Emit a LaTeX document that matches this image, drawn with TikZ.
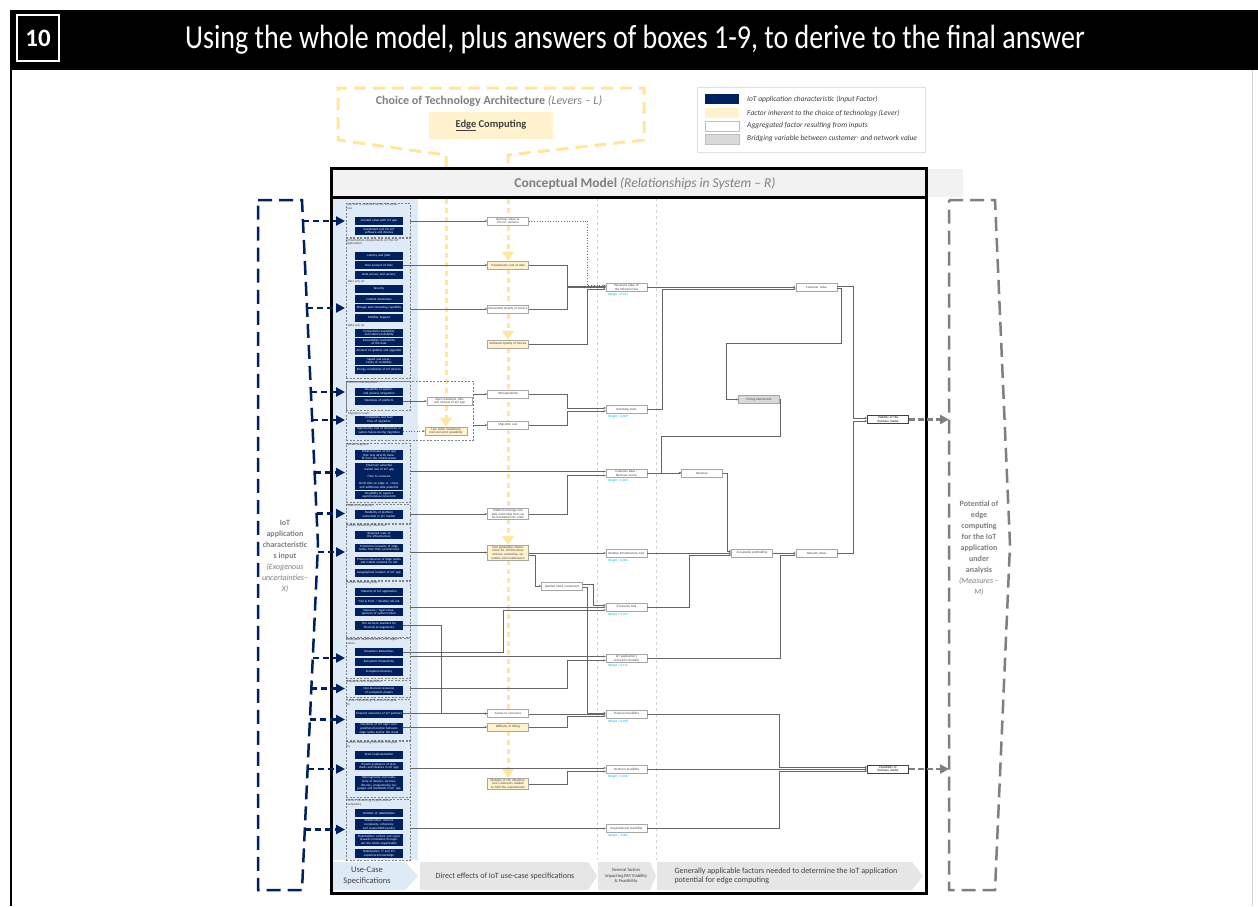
\documentclass[tikz,border=0pt]{standalone}
\usepackage{fontspec}
\setmainfont{Carlito}
\usetikzlibrary{arrows.meta,calc}

\definecolor{navy}{HTML}{002060}
\definecolor{leverfill}{HTML}{FFF2CC}
\definecolor{leverline}{HTML}{FFE699}
\definecolor{ucblue}{HTML}{DEEBF7}
\definecolor{bandgray}{HTML}{E7E6E6}
\definecolor{headgray}{HTML}{F2F2F2}
\definecolor{txtgray}{HTML}{7F7F7F}
\definecolor{darktxt}{HTML}{404040}
\definecolor{weightblue}{HTML}{00B0F0}
\definecolor{bridgefill}{HTML}{D9D9D9}

\newcommand\boxfont{\fontsize{3.2}{3.7}\selectfont}

\pgfdeclarelayer{bg}
\pgfsetlayers{bg,main}

\tikzset{
  inbox/.style={fill=navy, text=white, minimum width=48pt, minimum height=8.4pt, text width=46pt, inner sep=0.6pt, align=center, font=\boxfont},
  grpbox/.style={draw=gray, dash pattern=on 2pt off 1.5pt, line width=0.6pt, minimum width=64pt, inner sep=0pt},
  grplbl/.style={text=darktxt, font=\boxfont, inner sep=0.8pt, align=left, text width=52pt, anchor=north west},
  aggbox/.style={draw=gray!70, fill=white, minimum width=41pt, minimum height=8pt, text width=39pt, inner sep=0.6pt, align=center, font=\boxfont, text=darktxt},
  leverbox/.style={aggbox, fill=leverfill},
  bridgebox/.style={aggbox, fill=bridgefill},
  weight/.style={text=weightblue, font=\boxfont, inner sep=0pt, anchor=north west},
  wire/.style={draw=black!60, line width=0.7pt, -{Stealth[length=2.4pt,width=2pt]}},
  leverflow/.style={draw=leverline, line width=3pt, dash pattern=on 5pt off 4pt, -{Triangle[length=9pt,width=11pt]}},
  inarrow/.style={draw=navy, line width=2.5pt, dash pattern=on 6pt off 4pt, -{Triangle[length=9pt,width=9pt]}},
  outarrow/.style={draw=txtgray, line width=2.5pt, dash pattern=on 6pt off 3pt, -{Triangle[length=9pt,width=9pt]}},
  xbracket/.style={draw=navy, line width=2.5pt, dash pattern=on 14pt off 7pt},
  mbracket/.style={draw=txtgray, line width=2.5pt, dash pattern=on 14pt off 7pt},
  lgtext/.style={font=\fontsize{7.5}{8.5}\selectfont\itshape, text=darktxt, inner sep=0pt, anchor=west},
  bandtext/.style={font=\fontsize{8}{9.5}\selectfont, text=darktxt, align=center}
}

\begin{document}
\begin{tikzpicture}[x=1pt,y=-1pt]
%%%%% PAGE %%%%%
\useasboundingbox (0,0) rectangle (1258,906);
\fill[black] (10,10) rectangle (1258,70);
\draw[black, line width=1.5pt] (10.75,70) -- (10.75,906);
\draw[gray!35, line width=1pt] (1252,70) -- (1252,906);
\node[draw=white, line width=1.6pt, minimum width=42pt, minimum height=46pt, inner sep=0pt, text=white, font=\fontsize{25}{25}\selectfont\bfseries] (boxno) at (38,38) {10};
\node[text=white, font=\fontsize{28}{28}\selectfont] (title) at (635,40) {\scalebox{1}[1.2]{Using the whole model, plus answers of boxes 1-9, to derive to the final answer}};

%%%%% LEVERS %%%%%
\draw[leverline, line width=3pt, dash pattern=on 12pt off 7pt] (446,168) -- (446,155) -- (338,140) -- (338,88) -- (644,88) -- (644,140) -- (508,155) -- (508,168);
\node[text=txtgray, font=\fontsize{12}{14}\selectfont] (levers) at (489,101) {\textbf{Choice of Technology Architecture} \textit{(Levers -- L)}};
\node[fill=leverfill, minimum width=124pt, minimum height=27pt, text=darktxt, font=\fontsize{10.5}{12}\selectfont\bfseries] (edge) at (491,125.5) {\underline{Edge} Computing};

%%%%% LEGEND %%%%%
\node[draw=gray!25, fill=white, minimum width=228pt, minimum height=65pt, inner sep=0pt] (legend) at (811,119.5) {};
\node[fill=navy, minimum width=34pt, minimum height=10pt, inner sep=0pt] (lgin) at (722,99) {};
\node[lgtext] at (747,99) {IoT application characteristic (Input Factor)};
\node[fill=leverfill, minimum width=34pt, minimum height=10pt, inner sep=0pt] (lglever) at (722,113) {};
\node[lgtext] at (747,113) {Factor inherent to the choice of technology (Lever)};
\node[draw=gray!50, fill=white, minimum width=34pt, minimum height=10pt, inner sep=0pt] (lgagg) at (722,126) {};
\node[lgtext] at (747,126) {Aggregated factor resulting from inputs};
\node[draw=gray!50, fill=bridgefill, minimum width=34pt, minimum height=10pt, inner sep=0pt] (lgbridge) at (722,139) {};
\node[lgtext] at (747,139) {Bridging variable between customer- and network value};

%%%%% MODEL HEADER %%%%%
\fill[headgray] (331,169) rectangle (963,197);
\node[text=txtgray, font=\fontsize{13.5}{15}\selectfont] (cmodel) at (645,184) {\textbf{Conceptual Model} \textit{(Relationships in System -- R)}};

%%%%% INPUT FACTORS %%%%%
\node[grpbox, minimum height=34pt] (g1) at (378,220) {};
\node[grplbl] at (g1.north west) {App that is unlocked by the infrastructure};
\node[inbox] (cval) at (379,221) {Created value with IoT app};
\node[inbox] (invcost) at (379,231) {Investment cost for IoT software and devices};

\node[grpbox, minimum height=140pt] (g2) at (378,308) {};
\node[grplbl] at (g2.north west) {Infrastructure requirements (of the IoT application)};
\node[inbox] (latency) at (379,256) {Latency and jitter};
\node[inbox] (rawdata) at (379,265) {Raw amount of data};
\node[inbox] (privacy) at (379,275) {Data privacy and secrecy};
\node[grplbl, anchor=west] at (347,282) {Data rely on:};
\node[inbox] (security) at (379,289) {Security};
\node[inbox] (context) at (379,299) {Context Awareness};
\node[inbox] (storage) at (379,308) {Storage and computing capability};
\node[inbox] (mobility) at (379,318) {Mobility Support};
\node[grplbl, anchor=west] at (347,326) {Data rely on:};
\node[inbox] (connect) at (379,333) {Connectivity/availability and latency/reliability};
\node[inbox] (reach) at (379,342) {Accessibility/reachability of the data};
\node[inbox] (updates) at (379,351) {Amount of updates and upgrades};
\node[inbox] (scal) at (379,361) {Speed and uncertainty of scalability};
\node[inbox] (energy) at (379,370) {Energy constraints of IoT devices};

\node[grpbox, minimum width=127pt, minimum height=59pt] (g3) at (409.5,410.5) {};
\node[grpbox, minimum height=29pt] (g3a) at (378,395.5) {};
\node[grplbl] at (g3a.north west) {Platform characteristics};
\node[inbox] (integr) at (379,392) {Possibility of system- and process integration};
\node[inbox] (openness) at (379,401) {Openness of platform};
\node[grplbl, anchor=west] at (347,413.5) {Migration issues};
\node[inbox] (migcplx) at (379,420) {Complexity and lead time of migration};
\node[inbox] (migopp) at (379,431) {Opportunity cost of downtime or system failure during migration};
\node[aggbox, minimum width=45pt, text width=43pt] (openstd) at (449.5,401) {Open standards, APIs and interest of IoT app};
\node[leverbox, minimum width=42pt, text width=40pt] (lowinv) at (446,431) {Low initial investment trail and error possibility};

\node[grpbox, minimum height=59pt] (g4) at (378,472.5) {};
\node[grplbl] at (g4.north west) {Market segment};
\node[inbox] (initinc) at (379,455) {Initial/Increase of IoT app that may directly benefit from the infrastructure};
\node[inbox] (mktmax) at (379,467.5) {Maximum potential market size of IoT app};
\node[inbox] (ttc) at (379,476.5) {Time to consume};
\node[inbox] (draftdata) at (379,485.5) {Draft data on edge vs. cloud, and additional data potential};
\node[inbox] (async) at (379,495) {Possibility of support asynchronous/concurrent};

\node[grpbox, minimum height=19pt] (g5) at (378,513.5) {};
\node[grplbl] at (g5.north west) {Platform ownership};
\node[inbox] (plown) at (379,514.5) {Flexibility of platform ownership in IoT market};

\node[grpbox, minimum height=56pt] (g6) at (378,552) {};
\node[grplbl] at (g6.north west) {Factors influencing initial cost};
\node[inbox] (reqscale) at (379,535) {Required scale of the infrastructure};
\node[inbox] (protect) at (379,548) {Protection necessity of edge nodes from their environment};
\node[inbox] (presence) at (379,561) {Presence/absence of edge nodes and mobile network on site};
\node[inbox] (geo) at (379,573) {Geographical location of IoT app};

\node[grpbox, minimum height=56pt] (g7) at (378,609) {};
\node[grplbl] at (g7.north west) {Factors influencing Risk};
\node[inbox] (matapp) at (379,592) {Maturity of IoT application};
\node[inbox] (trial) at (379,601) {Trial \& Error / iterative roll-out};
\node[inbox] (expo) at (379,612) {Exposure / legal consequences of system failure};
\node[inbox] (defacto) at (379,625.5) {The de-facto standard for financial arrangements};

\node[grpbox, minimum height=40pt] (g8) at (378,658) {};
\node[grplbl] at (g8.north west) {Ecosystem health metrics of IoT application};
\node[inbox] (robust) at (379,652) {Ecosystem Robustness};
\node[inbox] (ecoprod) at (379,662) {Ecosystem Productivity};
\node[inbox] (ecodiv) at (379,672) {Ecosystem Diversity};

\node[grpbox, minimum height=17pt] (g9) at (378,688.5) {};
\node[grplbl] at (g9.north west) {Resources and Capabilities};
\node[inbox] (nonfin) at (379,690.5) {Non-financial resources of ecosystem players};

\node[grpbox, minimum height=41pt] (g10) at (378,719.5) {};
\node[grplbl] at (g10.north west) {Factors influencing Financial Complexity};
\node[inbox] (finres) at (379,714) {Financial resources of IoT partners};
\node[inbox] (variab) at (379,728.5) {Variability of IoT app's computational location between edge nodes and/or the cloud};

\node[grpbox, minimum height=56pt] (g11) at (378,769) {};
\node[grplbl] at (g11.north west) {Factors influencing Technical Complexity};
\node[inbox] (scaleimpl) at (379,755) {Scale implementation};
\node[inbox] (stdlib) at (379,766) {Presence/absence of standards and libraries in IoT app};
\node[inbox] (hetero) at (379,783.5) {Heterogeneity and modularity of devices, services, libraries, programming languages and standards in IoT app};

\node[grpbox, minimum height=61pt] (g12) at (378,829.5) {};
\node[grplbl] at (g12.north west) {Factors influencing Organizational Complexity};
\node[inbox] (nstake) at (379,813) {Number of stakeholders};
\node[inbox] (stkcplx) at (379,824.5) {Stakeholders' internal complexity, coherency and responsibility/policy};
\node[inbox] (culture) at (379,840) {Stakeholders' culture and vision towards innovation throughout the whole organization};
\node[inbox] (itexp) at (379,853.5) {Stakeholders' IT and IoT experience/knowledge};

%%%%% DIRECT EFFECTS %%%%%
\node[aggbox] (bval) at (508,221) {Business value of the IoT scenario};
\node[leverbox] (tcost) at (508,265) {Transmission cost of data};
\node[aggbox] (dqos) at (508,309) {Demanded Quality of Service};
\node[leverbox] (delqos) at (508,344) {Delivered Quality of Service};
\node[aggbox] (interop) at (508,394) {Interoperability};
\node[aggbox] (migcost) at (508,425) {Migration cost};
\node[aggbox] (plever) at (508,514) {Platform leverage and data ownership that can be translated into value};
\node[leverbox] (costgen) at (508,552.5) {Cost generating mechanisms for infrastructure roll-out, ownership, operation and maintenance};
\node[aggbox] (needinv) at (562,586) {Needed initial investment};
\node[aggbox] (access) at (508,713.5) {Access to resources};
\node[leverbox] (billing) at (508,727) {Difficulty of billing};
\node[leverbox] (maturity) at (508,784) {Maturity of the infrastructure's elements needed to fulfil the requirements};

%%%%% GENERAL FACTORS %%%%%
\node[aggbox] (perc) at (626.5,287.5) {Perceived value of the infrastructure};
\node[aggbox] (switch) at (626.5,409.5) {Switching Costs};
\node[aggbox] (custbase) at (626.5,473.5) {Customer Base / Revenue source};
\node[aggbox] (relcost) at (626.5,553) {Relative Infrastructure Cost};
\node[aggbox] (finrisk) at (626.5,607) {(Financial) Risk};
\node[aggbox] (ecosys) at (626.5,658.5) {IoT application's ecosystem (health)};
\node[aggbox] (finfeas) at (626.5,714) {Financial feasibility};
\node[aggbox] (techfeas) at (626.5,769.5) {Technical feasibility};
\node[aggbox] (orgfeas) at (626.5,828.5) {Organizational feasibility};
\node[weight] at ([xshift=2pt,yshift=-1.5pt]perc.south west) {Weight = 0.243};
\node[weight] at ([xshift=2pt,yshift=-1.5pt]switch.south west) {Weight = 0.069};
\node[weight] at ([xshift=2pt,yshift=-1.5pt]custbase.south west) {Weight = 0.203};
\node[weight] at ([xshift=2pt,yshift=-1.5pt]relcost.south west) {Weight = 0.066};
\node[weight] at ([xshift=2pt,yshift=-1.5pt]finrisk.south west) {Weight = 0.107};
\node[weight] at ([xshift=2pt,yshift=-1.5pt]ecosys.south west) {Weight = 0.112};
\node[weight] at ([xshift=2pt,yshift=-1.5pt]finfeas.south west) {Weight = 0.058};
\node[weight] at ([xshift=2pt,yshift=-1.5pt]techfeas.south west) {Weight = 0.108};
\node[weight] at ([xshift=2pt,yshift=-1.5pt]orgfeas.south west) {Weight = 0.083};

%%%%% APPLICATION POTENTIAL %%%%%
\node[aggbox] (custval) at (816.5,287) {Customer Value};
\node[bridgebox] (pricing) at (759,399.5) {Pricing Mechanism};
\node[aggbox] (revenue) at (702,473) {Revenue};
\node[aggbox] (profit) at (752,553) {Acceptable profitability};
\node[aggbox] (netval) at (816.5,553) {Network Value};
\node[aggbox, draw=black!75, line width=0.7pt, font=\boxfont\bfseries] (viab) at (888,419.5) {Viability of the business model};
\node[aggbox, draw=black!75, line width=0.7pt, font=\boxfont\bfseries] (feas) at (888,769) {Feasibility of business model};

%%%%% CONNECTIONS %%%%%
\draw[wire] (bval -| g1.east) -- (bval.west);
\draw[wire] (tcost -| rawdata.east) -- (tcost.west);
\draw[wire] (dqos -| g2.east) -- (dqos.west);
\draw[wire] (interop -| g3.east) -- (interop.west);
\draw[wire] (migcost -| g3.east) -- (migcost.west);
\draw[wire] (openness.east) -- (openstd.west);
\draw[wire, dotted] (migopp.east) -- (lowinv.west);
\draw[wire] ($(custbase.west -| g4.east)+(0,-2)$) -- ($(custbase.west)+(0,-2)$);
\draw[wire] (plever -| g5.east) -- (plever.west);
\draw[wire] (costgen -| g6.east) -- (costgen.west);
\draw[wire] (finrisk -| g7.east) -- (finrisk.west);
\draw[wire] (defacto.east) -- ++(38,0) |- (access.west);
\draw[wire] (robust.east) -- ++(100,0) |- ([yshift=-3pt]finrisk.west);
\draw[wire] ($(ecosys.west -| g8.east)+(0,-2)$) -- ($(ecosys.west)+(0,-2)$);
\draw[wire] (g9.east) -- ++(157,0) |- ([yshift=-2pt]ecosys.west);
\draw[wire] (access -| finres.east) -- (access.west);
\draw[wire] (billing -| variab.east) -- (billing.west);
\draw[wire] ($(techfeas.west -| g11.east)+(0,-1.5)$) -- ($(techfeas.west)+(0,-1.5)$);
\draw[wire] (orgfeas -| g12.east) -- (orgfeas.west);

\draw[wire, dotted] (bval.east) -- ++(59,0) |- ([yshift=2pt]perc.west);
\draw[wire] (tcost.east) -- ++(39,0) |- ([yshift=1pt]perc.west);
\draw[wire] (dqos.east) -- ++(39,0) |- (perc.west);
\draw[wire] (delqos.east) -- ++(59,0) |- ([yshift=-1.5pt]perc.west);
\draw[wire] (interop.east) -- ++(39,0) |- ([yshift=1.5pt]switch.west);
\draw[wire] (migcost.east) -- ++(39,0) |- ([yshift=-1.5pt]switch.west);
\draw[wire] (plever.east) -- ++(39,0) |- ([yshift=-2pt]custbase.west);
\draw[wire] (relcost -| costgen.east) -- (relcost.west);
\draw[wire] ([yshift=-3pt]costgen.east) -- ++(7,0) |- (needinv.west);
\draw[wire] ([yshift=2pt]needinv.east) -- ++(11,0) |- ([yshift=2pt]finrisk.west);
\draw[wire] ([yshift=-1.5pt]needinv.east) -- ++(5,0) |- ([yshift=1pt]finfeas.west);
\draw[wire] (finfeas -| access.east) -- (finfeas.west);
\draw[wire] (billing.east) -- ++(39,0) |- ([yshift=-2pt]finfeas.west);
\draw[wire] (maturity.east) -- ++(39,0) |- ([yshift=-2pt]techfeas.west);

\draw[wire] (custval -| perc.east) -- (custval.west);
\draw[wire] (switch.east) -- ++(15,0) |- ([yshift=-2pt]custval.west);
\draw[wire] ([yshift=-1pt]custval.east) -- ++(4,0) -- ++(0,55) -| ($(pricing.west)+(-12,0)$) -- (pricing.west);
\draw[wire] ([yshift=1pt]custval.east) -- ++(16,0) |- ([yshift=1.5pt]viab.west);
\draw[wire] (pricing.east) -- ++(1,0) -- ++(0,37) -| ($(revenue.west)+(-20,0)$) -- (revenue.west);
\draw[wire] (revenue -| custbase.east) -- (revenue.west);
\draw[wire] (revenue.east) -- ++(5,0) |- ([yshift=2pt]profit.west);
\draw[wire] (relcost.east) -- (profit.west);
\draw[wire] (finrisk.east) -- ++(42,0) |- ([yshift=-2pt]profit.west);
\draw[wire] (profit.east) -- (netval.west);
\draw[wire] (ecosys.east) -- ++(133,0) |- ([yshift=-2pt]netval.west);
\draw[wire] (netval.east) -- ++(16,0) |- ([yshift=-1.5pt]viab.west);
\draw[wire] (finfeas.east) -- ++(132,0) |- ([yshift=2pt]feas.west);
\draw[wire] (feas -| techfeas.east) -- (feas.west);
\draw[wire] (orgfeas.east) -- ++(132,0) |- ([yshift=-2pt]feas.west);

%%%%% BACKGROUND %%%%%
\begin{pgfonlayer}{bg}
  \fill[white] (0,0) rectangle (1258,906);
  \fill[ucblue] (333,198) rectangle (418,860);
  \draw[gray!35, dashed, line width=0.8pt] (597,198) -- (597,860);
  \draw[gray!35, dashed, line width=0.8pt] (656,198) -- (656,860);
  \draw[leverflow] (446,199) -- (lowinv.north);
  \draw[leverflow] (508,199) -- (tcost.north);
  \draw[leverflow] (tcost.south) -- (delqos.north);
  \draw[leverflow] (delqos.south) -- (costgen.north);
  \draw[leverflow] (costgen.south) -- (maturity.north);
\end{pgfonlayer}

%%%%% BOTTOM BAND %%%%%
\fill[ucblue] (333,862) -- (405,862) -- (418,876) -- (405,890) -- (333,890) -- cycle;
\node[bandtext, font=\fontsize{8.5}{10.5}\selectfont] (ucspec) at (367,876) {Use-Case\\Specifications};
\fill[bandgray] (420,862) -- (588,862) -- (597,876) -- (588,890) -- (420,890) -- cycle;
\node[bandtext] (direct) at (505,876) {Direct effects of IoT use-case specifications};
\fill[bandgray] (598,862) -- (650,862) -- (656,876) -- (650,890) -- (598,890) -- cycle;
\node[bandtext, font=\fontsize{4.6}{5.6}\selectfont] (general) at (626,876) {General factors\\impacting BM Viability\\\& Feasibility};
\fill[bandgray] (657,862) -- (912,862) -- (923,876) -- (912,890) -- (657,890) -- cycle;
\node[bandtext, align=left, anchor=west] (potential) at (671,876) {Generally applicable factors needed to determine the IoT application\\potential for edge computing};

%%%%% FRAME %%%%%
\draw[line width=3pt] (331,168) rectangle (926,893);
\draw[line width=3pt] (331,197) -- (926,197);

%%%%% EXOGENOUS INPUTS AND MEASURES %%%%%
\draw[xbracket] (258,200) -- (302,200) -- (318,545) -- (302,890) -- (258,890) -- cycle;
\node[text=txtgray, align=center, font=\fontsize{8}{11}\selectfont] (xlabel) at (285,556) {\textbf{IoT}\\\textbf{application}\\\textbf{characteristic}\\\textbf{s input}\\\textit{(Exogenous}\\\textit{uncertainties--}\\\textit{X)}};
\coordinate (colL) at (345,0);
\foreach \sx/\tgt in {303/cval, 307/g2, 311/integr, 312/migcplx, 315/g4, 317/g5, 318/g6, 313/g8, 311/g9, 310/g10, 308/g11, 305/g12}
  \draw[inarrow] (\sx,0 |- \tgt) -- (\tgt -| colL);

\draw[mbracket] (949,200) -- (995,200) -- (1010,545) -- (995,890) -- (949,890) -- cycle;
\node[text=txtgray, align=center, font=\fontsize{8}{11}\selectfont] (mlabel) at (979,548) {\textbf{Potential of}\\\textbf{edge}\\\textbf{computing}\\\textbf{for the IoT}\\\textbf{application}\\\textbf{under}\\\textbf{analysis}\\\textit{(Measures --}\\\textit{M)}};
\coordinate (mL) at (949,200);
\draw[outarrow] (viab.east) -- (viab -| mL);
\draw[outarrow] (feas.east) -- (feas -| mL);
\end{tikzpicture}
\end{document}
